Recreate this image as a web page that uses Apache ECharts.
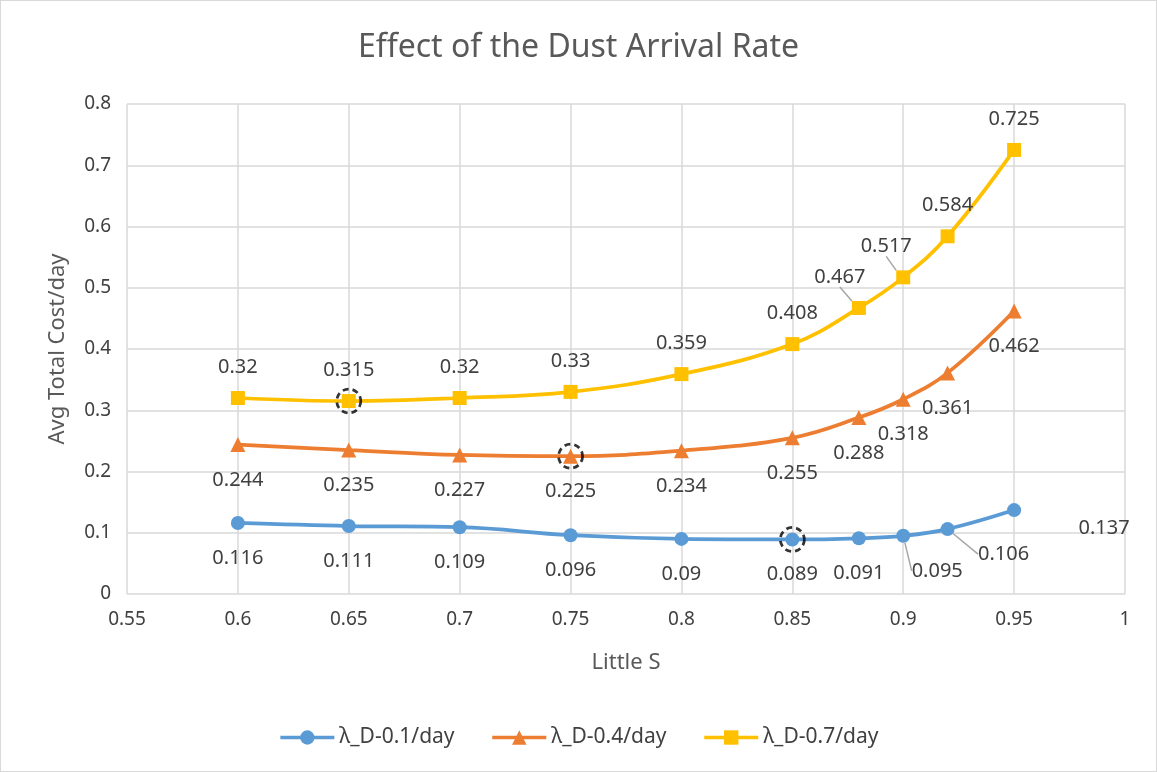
<!DOCTYPE html>
<html>
<head>
<meta charset="utf-8">
<script src="https://cdn.jsdelivr.net/npm/echarts@6/dist/echarts.min.js"></script>
<style>
  html, body { margin: 0; padding: 0; background: #fff; }
  #main { width: 1155px; height: 770px; border: 1px solid #d9d9d9; }
</style>
</head>
<body>
<div id="main"></div>
<script>
// chart data
var littleS = [0.6, 0.65, 0.7, 0.75, 0.8, 0.85, 0.88, 0.9, 0.92, 0.95];
var rate01 = [0.116, 0.111, 0.109, 0.096, 0.09, 0.089, 0.091, 0.095, 0.106, 0.137];
var rate04 = [0.244, 0.235, 0.227, 0.225, 0.234, 0.255, 0.288, 0.318, 0.361, 0.462];
var rate07 = [0.32, 0.315, 0.32, 0.33, 0.359, 0.408, 0.467, 0.517, 0.584, 0.725];
var seriesNames = ['λ_D-0.1/day', 'λ_D-0.4/day', 'λ_D-0.7/day'];
// minimum points circled in the original
var circledS = [0.85, 0.75, 0.65];

var font = 'Noto Sans';
var textColor = '#404040';

function pairs(ys) {
  return littleS.map(function (x, i) { return [x, ys[i]]; });
}

// label nudges (by data index) for crowded points: [dx, dy, leader line]
var nudges = [
  { 7: [34, 0, true], 8: [56, -10, true], 9: [90, -17, false] },
  {},
  { 6: [-19, 0, true], 7: [-17, 0, true] }
];

function makeSeries(idx, ys, color, symbol, pos, dist) {
  var nudge = nudges[idx];
  return {
    name: seriesNames[idx],
    type: 'line',
    smooth: 0.4,
    data: pairs(ys).map(function (p, i) {
      var item = { value: p };
      if (nudge[i] && nudge[i][2]) {
        item.labelLine = { show: true };
      }
      return item;
    }),
    symbol: symbol,
    symbolSize: symbol === 'triangle' ? 15 : 14,
    lineStyle: { color: color, width: 3.75 },
    itemStyle: { color: color },
    label: {
      show: true,
      position: pos,
      distance: dist,
      color: textColor,
      fontFamily: font,
      fontSize: 20,
      formatter: function (p) { return String(p.value[1]); }
    },
    labelLine: { show: false, lineStyle: { color: '#a6a6a6', width: 1.5 } },
    labelLayout: function (params) {
      var n = nudge[params.dataIndex];
      if (n) return { dx: n[0], dy: n[1] };
      return {};
    },
    z: 3
  };
}

var circled = [
  [circledS[0], rate01[littleS.indexOf(circledS[0])]],
  [circledS[1], rate04[littleS.indexOf(circledS[1])]],
  [circledS[2], rate07[littleS.indexOf(circledS[2])]]
];

var myChart = echarts.init(document.getElementById('main'));

myChart.setOption({
  animation: false,
  title: {
    text: 'Effect of the Dust Arrival Rate',
    left: 'center',
    top: 26,
    textStyle: { color: '#595959', fontFamily: font, fontSize: 32, fontWeight: 'normal' }
  },
  legend: {
    data: seriesNames,
    bottom: 18,
    left: 'center',
    itemWidth: 54,
    itemHeight: 18,
    itemGap: 36,
    lineStyle: { width: 3.5 },
    textStyle: { color: textColor, fontFamily: font, fontSize: 21 }
  },
  grid: { left: 126, right: 31, top: 103, bottom: 177 },
  xAxis: {
    type: 'value',
    min: 0.55,
    max: 1,
    interval: 0.05,
    name: 'Little S',
    nameLocation: 'middle',
    nameGap: 58,
    nameTextStyle: { color: '#595959', fontFamily: font, fontSize: 22 },
    axisLine: { show: false },
    axisTick: { show: false },
    splitLine: { show: true, lineStyle: { color: '#d9d9d9', width: 1.5 } },
    axisLabel: {
      color: textColor, fontFamily: font, fontSize: 19, margin: 16,
      formatter: function (v) { return String(Math.round(v * 100) / 100); }
    }
  },
  yAxis: {
    type: 'value',
    min: 0,
    max: 0.8,
    interval: 0.1,
    name: 'Avg Total Cost/day',
    nameLocation: 'middle',
    nameGap: 58,
    nameTextStyle: { color: '#595959', fontFamily: font, fontSize: 22 },
    axisLine: { show: false },
    axisTick: { show: false },
    splitLine: { lineStyle: { color: '#d9d9d9', width: 1.5 } },
    axisLabel: {
      color: textColor, fontFamily: font, fontSize: 19, margin: 16,
      formatter: function (v) { return String(Math.round(v * 10) / 10); }
    }
  },
  series: [
    makeSeries(0, rate01, '#5B9BD5', 'circle', 'bottom', 18),
    makeSeries(1, rate04, '#ED7D31', 'triangle', 'bottom', 18),
    makeSeries(2, rate07, '#FFC000', 'rect', 'top', 14),
    {
      type: 'scatter',
      data: circled,
      symbol: 'circle',
      symbolSize: 24,
      silent: true,
      itemStyle: {
        color: 'rgba(0,0,0,0)',
        borderColor: '#000',
        borderWidth: 2.75,
        borderType: [6, 4]
      },
      z: 4
    }
  ]
});
</script>
</body>
</html>
